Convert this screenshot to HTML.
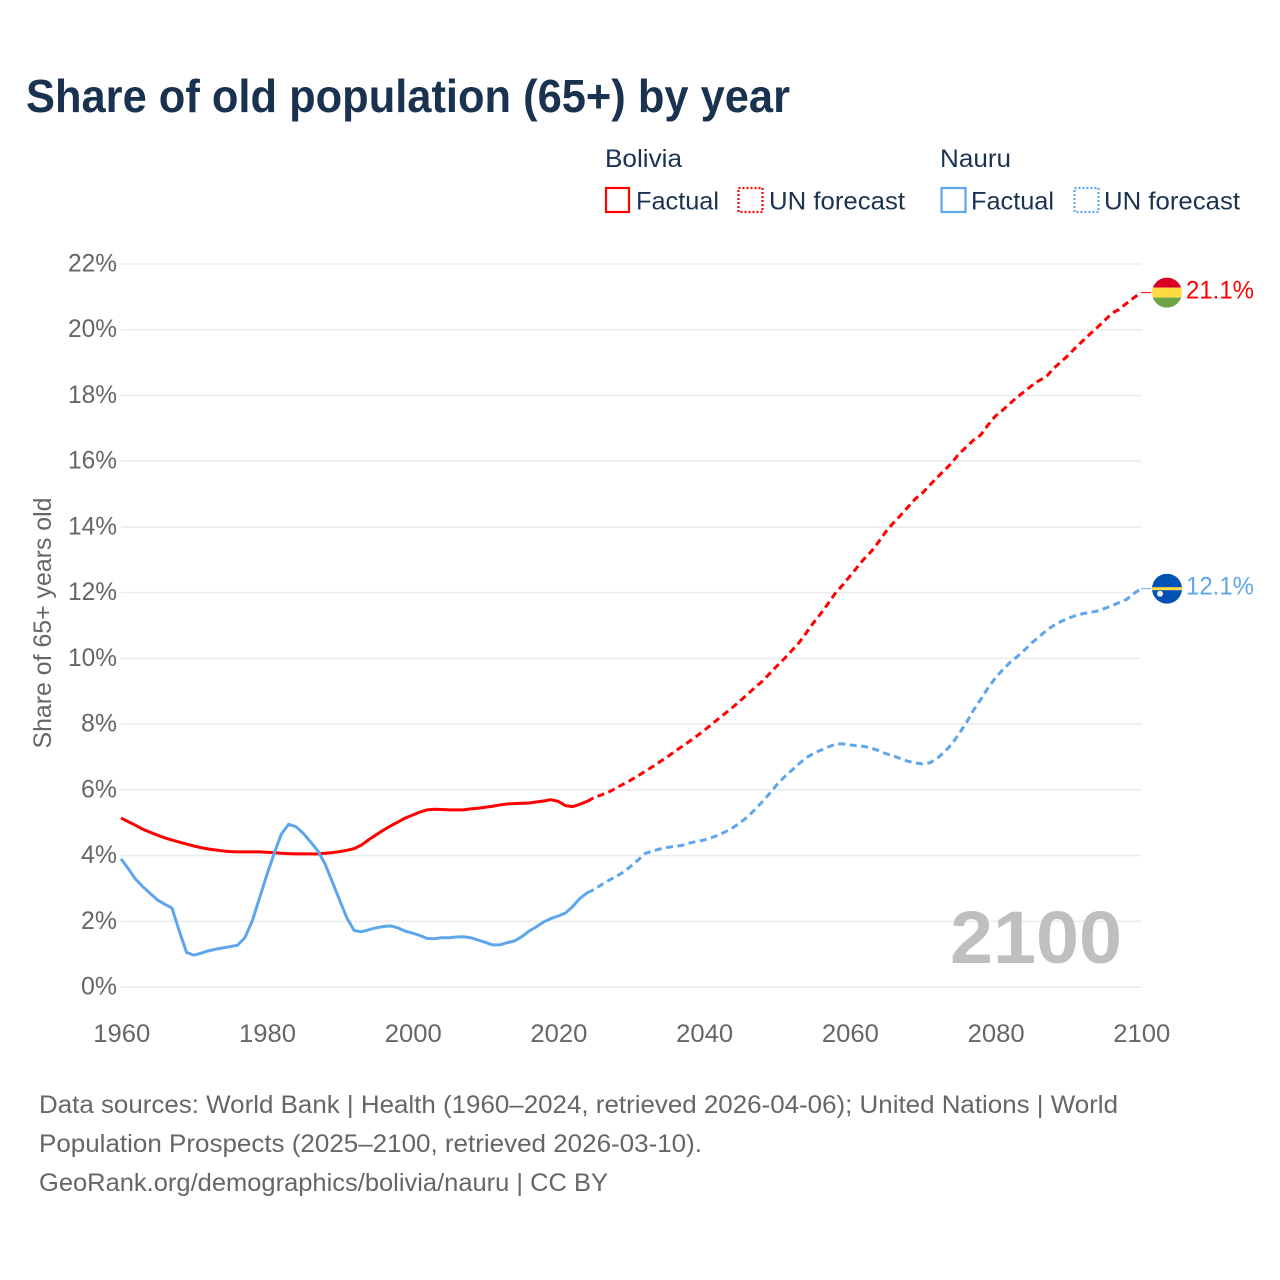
<!DOCTYPE html>
<html lang="en">
<head>
<meta charset="utf-8">
<title>Share of old population (65+) by year</title>
<style>
html,body{margin:0;padding:0;background:#fff;}
svg{display:block;font-family:"Liberation Sans",sans-serif;}
.legend-text{font-size:25px;fill:#1a3352;}
.muted{fill:#666;}
.source{font-size:25px;fill:#666;}
</style>
</head>
<body>
<svg id="chart" width="1280" height="1280" viewBox="0 0 1280 1280" xmlns="http://www.w3.org/2000/svg">
  <defs>
    <clipPath id="flag-clip"><circle cx="0" cy="0" r="15"></circle></clipPath>
  </defs>
  <rect width="1280" height="1280" fill="#fff"></rect>
  <text x="26" y="112" font-size="46" font-weight="700" fill="#18324f" textLength="764" lengthAdjust="spacingAndGlyphs">Share of old population (65+) by year</text>

  <g>
    <text class="legend-text" x="605" y="167" textLength="77" lengthAdjust="spacingAndGlyphs">Bolivia</text>
    <rect x="606" y="188" width="23" height="24" fill="none" stroke="#ff0000" stroke-width="2.2"></rect>
    <text class="legend-text" x="636" y="209.500" textLength="83" lengthAdjust="spacingAndGlyphs">Factual</text>
    <rect x="738.500" y="188" width="24" height="24" fill="none" stroke="#ff0000" stroke-width="2.2" stroke-dasharray="2 2"></rect>
    <text class="legend-text" x="769" y="209.500" textLength="136" lengthAdjust="spacingAndGlyphs">UN forecast</text>

    <text class="legend-text" x="940" y="167" textLength="71" lengthAdjust="spacingAndGlyphs">Nauru</text>
    <rect x="941.500" y="188" width="24" height="24" fill="none" stroke="#5ea6ec" stroke-width="2.2"></rect>
    <text class="legend-text" x="971" y="209.500" textLength="83" lengthAdjust="spacingAndGlyphs">Factual</text>
    <rect x="1074.500" y="188" width="24" height="24" fill="none" stroke="#5ea6ec" stroke-width="2.2" stroke-dasharray="2 2"></rect>
    <text class="legend-text" x="1104" y="209.500" textLength="136" lengthAdjust="spacingAndGlyphs">UN forecast</text>
  </g>

  <g id="grid"></g>
  <g id="y-ticks"></g>
  <g id="x-ticks"></g>
  <text class="muted" transform="translate(51,623) rotate(-90)" text-anchor="middle" font-size="25" textLength="251" lengthAdjust="spacingAndGlyphs">Share of 65+ years old</text>

  <text x="1122" y="963" text-anchor="end" font-size="74" font-weight="700" fill="#bfbfbf" textLength="172" lengthAdjust="spacingAndGlyphs">2100</text>

  <g id="series"></g>

  <g id="flag-bolivia">
    <g clip-path="url(#flag-clip)">
      <rect x="-15" y="-15" width="30" height="10" fill="#d80027"></rect>
      <rect x="-15" y="-5" width="30" height="10" fill="#ffda44"></rect>
      <rect x="-15" y="5" width="30" height="10" fill="#6da544"></rect>
    </g>
  </g>
  <g id="flag-nauru">
    <g clip-path="url(#flag-clip)">
      <rect x="-15" y="-15" width="30" height="30" fill="#0052b4"></rect>
      <rect x="-15" y="-1.500" width="30" height="3" fill="#ffda44"></rect>
      <circle cx="-7" cy="5" r="3" fill="#f0f0f0"></circle>
    </g>
  </g>

  <g>
    <text class="source" x="39" y="1113" textLength="1079" lengthAdjust="spacingAndGlyphs">Data sources: World Bank | Health (1960–2024, retrieved 2026-04-06); United Nations | World</text>
    <text class="source" x="39" y="1152" textLength="663" lengthAdjust="spacingAndGlyphs">Population Prospects (2025–2100, retrieved 2026-03-10).</text>
    <text class="source" x="39" y="1191" textLength="569" lengthAdjust="spacingAndGlyphs">GeoRank.org/demographics/bolivia/nauru | CC BY</text>
  </g>
</svg>

<script>
const yTicks = [0, 2, 4, 6, 8, 10, 12, 14, 16, 18, 20, 22];
const xTicks = [1960, 1980, 2000, 2020, 2040, 2060, 2080, 2100];
const factualStart = 1960;
const forecastStart = 2024;

const boliviaFactual = [5.14,5.03,4.92,4.8,4.71,4.62,4.54,4.47,4.41,4.35,4.29,4.24,4.2,4.17,4.14,4.12,4.11,4.11,4.11,4.11,4.1,4.09,4.07,4.06,4.05,4.05,4.05,4.05,4.07,4.09,4.12,4.16,4.21,4.32,4.48,4.63,4.77,4.9,5.02,5.14,5.23,5.32,5.39,5.41,5.4,5.39,5.39,5.39,5.42,5.44,5.47,5.5,5.54,5.57,5.58,5.59,5.6,5.63,5.66,5.7,5.65,5.52,5.49,5.56,5.65];
const boliviaForecast = [5.65,5.77,5.85,5.94,6.06,6.18,6.3,6.43,6.57,6.71,6.86,7.0,7.17,7.32,7.47,7.63,7.8,7.98,8.16,8.34,8.52,8.71,8.91,9.11,9.3,9.53,9.76,9.98,10.22,10.46,10.76,11.07,11.35,11.65,11.97,12.22,12.49,12.76,13.03,13.26,13.55,13.86,14.12,14.35,14.6,14.85,15.03,15.27,15.5,15.72,15.94,16.22,16.43,16.64,16.8,17.1,17.37,17.55,17.75,17.95,18.12,18.3,18.45,18.57,18.82,19.02,19.22,19.45,19.66,19.87,20.07,20.28,20.5,20.62,20.8,20.97,21.13];
const nauruFactual = [3.9,3.6,3.28,3.05,2.85,2.65,2.52,2.4,1.7,1.05,0.97,1.03,1.1,1.15,1.19,1.23,1.27,1.5,2.0,2.7,3.4,4.05,4.65,4.95,4.88,4.68,4.42,4.15,3.75,3.2,2.65,2.1,1.72,1.68,1.74,1.8,1.84,1.86,1.8,1.7,1.64,1.57,1.48,1.47,1.5,1.5,1.52,1.53,1.5,1.43,1.36,1.28,1.28,1.35,1.4,1.53,1.7,1.83,1.98,2.08,2.16,2.25,2.45,2.7,2.87];
const nauruForecast = [2.87,2.97,3.12,3.25,3.37,3.5,3.68,3.87,4.07,4.14,4.2,4.25,4.28,4.31,4.38,4.43,4.47,4.54,4.62,4.73,4.85,5.0,5.18,5.4,5.63,5.88,6.15,6.38,6.58,6.78,6.97,7.1,7.2,7.3,7.38,7.4,7.37,7.34,7.32,7.27,7.19,7.1,7.03,6.95,6.87,6.82,6.79,6.82,6.95,7.15,7.38,7.7,8.03,8.42,8.75,9.1,9.4,9.65,9.87,10.05,10.25,10.47,10.65,10.85,11.0,11.12,11.22,11.3,11.36,11.4,11.44,11.52,11.6,11.7,11.79,11.97,12.12];

const SVG_NS = 'http://www.w3.org/2000/svg';
const RED = '#ff0000';
const BLUE = '#5ea6ec';

function xScale(year) { return 121 + (year - 1960) * (1141 - 121) / 140; }
function yScale(pct) { return 987 - pct * (987 - 264) / 22; }

function make(tag, parent, attrs, text) {
  const el = document.createElementNS(SVG_NS, tag);
  Object.keys(attrs).forEach(function (k) { el.setAttribute(k, attrs[k]); });
  if (text !== undefined) el.textContent = text;
  parent.appendChild(el);
  return el;
}

function linePath(values, startYear) {
  return values.map(function (v, i) {
    return (i ? 'L' : 'M') + xScale(startYear + i).toFixed(2) + ' ' + yScale(v).toFixed(2);
  }).join('');
}

const gridGroup = document.getElementById('grid');
const yTickGroup = document.getElementById('y-ticks');
yTicks.forEach(function (t) {
  const line = make('line', gridGroup, { x1: 121, x2: 1141.5, y1: yScale(t), y2: yScale(t), stroke: '#ececec', 'stroke-width': 1.6 });
  
  
  const label = make('text', yTickGroup, { x: 117, y: yScale(t) + 7.500, 'text-anchor': 'end', 'font-size': 25, fill: '#666', textLength: String(t).length === 1 ? 36 : 49, lengthAdjust: 'spacingAndGlyphs' }, t + '%');
  
  
});

const xTickGroup = document.getElementById('x-ticks');
xTicks.forEach(function (t) {
  const label = make('text', xTickGroup, { x: xScale(t) + 0.800, y: 1042, 'text-anchor': 'middle', 'font-size': 25, fill: '#666', textLength: 57, lengthAdjust: 'spacingAndGlyphs' }, String(t));
  
  
});

const seriesGroup = document.getElementById('series');

const boliviaFactualLine = make('path', seriesGroup, { d: linePath(boliviaFactual, factualStart), fill: 'none', stroke: RED, 'stroke-width': 3, 'stroke-linejoin': 'round' });



const boliviaForecastLine = make('path', seriesGroup, { d: linePath(boliviaForecast, forecastStart), fill: 'none', stroke: RED, 'stroke-width': 3, 'stroke-dasharray': '7 4.5' });



const nauruFactualLine = make('path', seriesGroup, { d: linePath(nauruFactual, factualStart), fill: 'none', stroke: BLUE, 'stroke-width': 3, 'stroke-linejoin': 'round' });



const nauruForecastLine = make('path', seriesGroup, { d: linePath(nauruForecast, forecastStart), fill: 'none', stroke: BLUE, 'stroke-width': 3, 'stroke-dasharray': '7 4.5' });



const boliviaLast = boliviaForecast[boliviaForecast.length - 1];
const nauruLast = nauruForecast[nauruForecast.length - 1];

const boliviaConnector = make('line', seriesGroup, { x1: 1141, x2: 1151, y1: yScale(boliviaLast), y2: yScale(boliviaLast), stroke: RED, 'stroke-width': 1 });



const nauruConnector = make('line', seriesGroup, { x1: 1141, x2: 1151, y1: yScale(nauruLast), y2: yScale(nauruLast), stroke: BLUE, 'stroke-width': 1 });



const boliviaValue = make('text', seriesGroup, { x: 1186, y: yScale(boliviaLast) + 6, 'font-size': 25, fill: RED, textLength: 68, lengthAdjust: 'spacingAndGlyphs' }, boliviaLast.toFixed(1) + '%');



const nauruValue = make('text', seriesGroup, { x: 1186, y: yScale(nauruLast) + 6, 'font-size': 25, fill: BLUE, textLength: 68, lengthAdjust: 'spacingAndGlyphs' }, nauruLast.toFixed(1) + '%');



document.getElementById('flag-bolivia').setAttribute('transform', 'translate(1167,' + yScale(boliviaLast) + ')');
document.getElementById('flag-nauru').setAttribute('transform', 'translate(1167,' + yScale(nauruLast) + ')');
</script>
</body>
</html>
